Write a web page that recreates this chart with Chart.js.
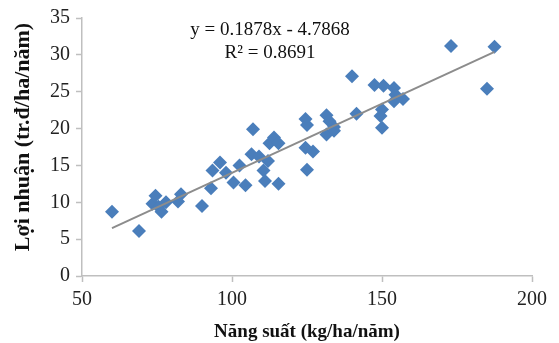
<!DOCTYPE html>
<html>
<head>
<meta charset="utf-8">
<script src="https://cdn.jsdelivr.net/npm/chart.js@4"></script>
<style>
  body { margin: 0; background: #fff; }
  #wrap { width: 559px; height: 343px; }
</style>
</head>
<body>
<div id="wrap"><canvas id="myChart" width="559" height="343"></canvas></div>
<script>
// values
const yieldX = [60, 69, 73.5, 74.5, 75.5, 76.5, 78, 82, 83, 90, 93, 93.5, 96, 98, 100.5, 102.5, 104.5,
    106.5, 107, 109, 110.5, 111, 112, 112.5, 114, 115.5, 115.5, 124.5, 125, 124.5, 125, 127,
    131.5, 132.5, 134, 131.5, 134, 140, 141.5, 147.5, 150.5, 154, 154.5, 154, 157, 150, 149.5, 150,
    173, 185, 187.5];
const profitY = [8.7, 6.1, 9.8, 10.9, 9.4, 8.7, 10.0, 10.1, 11.1, 9.5, 11.9, 14.3, 15.4, 14.0, 12.7, 15.0, 12.3,
    16.5, 19.9, 16.2, 14.3, 12.9, 15.6, 18.0, 18.8, 18.0, 12.5, 21.3, 20.5, 17.4, 14.4, 16.9,
    21.8, 21.0, 20.2, 19.2, 19.7, 27.1, 22.0, 25.9, 25.8, 25.5, 24.6, 23.7, 24.0, 22.6, 21.7, 20.1,
    31.2, 25.4, 31.1];
const trendX = [60, 187.5];
const trendY = [6.5, 30.4];
const equationText = ['y = 0.1878x - 4.7868', 'R² = 0.8691'];
const yTitle = 'Lợi nhuận (tr.đ/ha/năm)';
const xTicks = [50, 100, 150, 200];
const yTicks = [0, 5, 10, 15, 20, 25, 30, 35];

const axisGray = '#bfbfbf';
const serif = "'Liberation Serif', 'Times New Roman', serif";

// draws the trendline equation and the y axis title (sits a bit above centre)
const extraText = {
    id: 'extraText',
    afterDraw(chart) {
        const ctx = chart.ctx;
        ctx.save();
        ctx.fillStyle = '#111';
        ctx.font = '19px ' + serif;
        ctx.textAlign = 'center';
        ctx.textBaseline = 'middle';
        ctx.fillText(equationText[0], 270, 30);
        ctx.fillText(equationText[1], 270, 53);

        ctx.translate(23, 137);
        ctx.rotate(-Math.PI / 2);
        ctx.font = 'bold 22px ' + serif;
        ctx.fillText(yTitle, 0, 0);
        ctx.restore();
    }
};

new Chart(document.getElementById('myChart'), {
    type: 'scatter',
    data: {
        datasets: [{
            label: 'data',
            data: yieldX.map((x, i) => ({ x: x, y: profitY[i] })),
            pointStyle: 'rectRot',
            pointRadius: 7,
            backgroundColor: '#4a7ebb',
            borderColor: '#4a7ebb',
            borderWidth: 0,
            order: 2
        }, {
            label: 'trend',
            type: 'line',
            data: trendX.map((x, i) => ({ x: x, y: trendY[i] })),
            borderColor: '#8c8c8c',
            borderWidth: 2,
            pointRadius: 0,
            fill: false,
            order: 1
        }]
    },
    options: {
        responsive: false,
        animation: false,
        layout: { padding: { left: 0, top: 16, right: 27, bottom: 0 } },
        plugins: {
            legend: { display: false },
            tooltip: { enabled: false }
        },
        scales: {
            x: {
                type: 'linear',
                min: 50,
                max: 200,
                afterBuildTicks: scale => { scale.ticks = xTicks.map(v => ({ value: v })); },
                afterFit: scale => { scale.height = 67; },
                grid: { drawOnChartArea: false, color: axisGray, tickLength: 6, tickWidth: 1.5 },
                border: { color: axisGray, width: 1.5 },
                ticks: { color: '#222', padding: 6, font: { family: serif, size: 20 } },
                title: {
                    display: true,
                    text: 'Năng suất (kg/ha/năm)',
                    color: '#111',
                    padding: { top: 0, bottom: 0 },
                    font: { family: serif, size: 19, weight: 'bold' }
                }
            },
            y: {
                min: 0,
                max: 35,
                afterBuildTicks: scale => { scale.ticks = yTicks.map(v => ({ value: v })); },
                afterFit: scale => { scale.width = 82; },
                grid: { drawOnChartArea: false, color: axisGray, tickLength: 6, tickWidth: 1.5 },
                border: { color: axisGray, width: 1.5 },
                ticks: { color: '#222', padding: 6, font: { family: serif, size: 20 } },
                title: { display: false }
            }
        }
    },
    plugins: [extraText]
});
</script>
</body>
</html>
